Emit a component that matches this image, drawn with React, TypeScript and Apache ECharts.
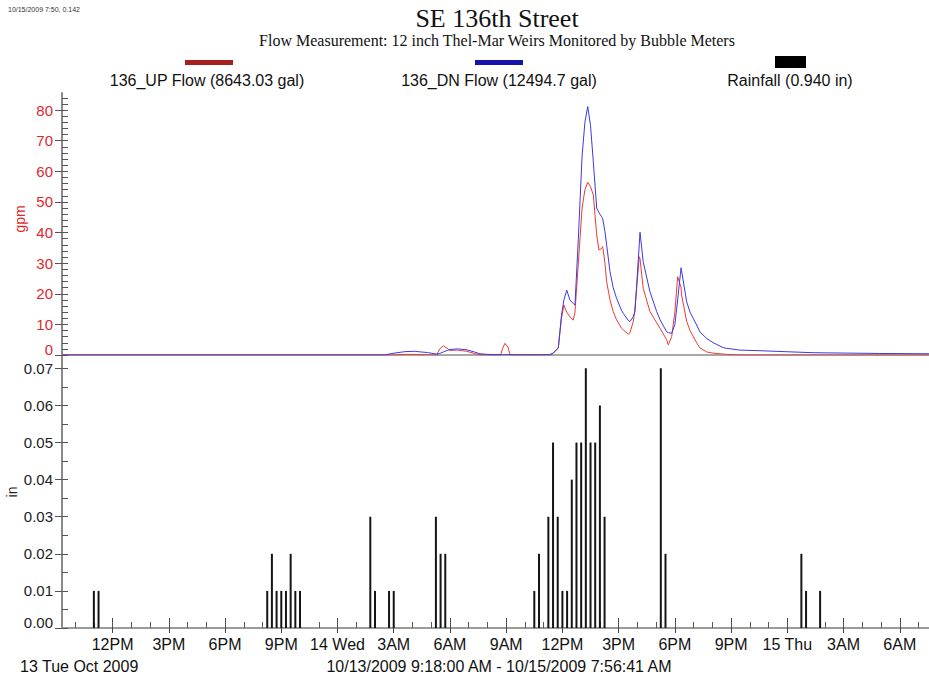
import React, { useEffect, useRef } from "react";
import * as echarts from "echarts";

// time in hours since 10/13/2009 00:00
const flowHours = [9.3, 26.5, 26.9, 27.6, 28.1, 28.8, 29.3, 29.45, 29.65, 29.85, 30.0, 30.4, 30.9, 31.3, 31.6, 32.0, 32.7, 32.8, 32.93, 33.1, 33.2, 33.5, 35.3, 35.5, 35.78, 35.95, 36.08, 36.23, 36.4, 36.58, 36.67, 36.85, 37.05, 37.2, 37.35, 37.5, 37.65, 37.83, 37.95, 38.09, 38.15, 38.27, 38.36, 38.54, 38.71, 38.89, 39.16, 39.25, 39.51, 39.6, 39.78, 39.87, 40.1, 40.14, 40.31, 40.67, 41.03, 41.21, 41.56, 41.65, 41.83, 42.0, 42.15, 42.33, 42.36, 42.63, 42.81, 43.16, 43.34, 43.7, 44.05, 44.58, 44.76, 45.47, 46.54, 49.37, 52.94, 55.56];
const upFlow = [0, 0, 0, 0.2, 0.2, 0.1, 0, 2.0, 3.0, 2.2, 1.5, 1.6, 1.2, 0.5, 0.1, 0, 0, 2.0, 3.8, 2.5, 0.2, 0, 0, 0.5, 2.3, 12, 16.3, 14, 12.5, 11.4, 14, 30, 48, 54, 56.4, 55, 52.3, 39.2, 34.3, 34.8, 35.4, 30, 24, 18, 14.2, 11.5, 8.7, 8.2, 6.8, 7.2, 10.9, 15, 32.1, 31.5, 21.8, 14.2, 10.5, 8.7, 5, 3.3, 6, 14, 25.6, 22, 19.6, 11, 8, 4, 2.3, 1.0, 0.6, 0.3, 0.2, 0, 0, 0, 0, 0];
const dnFlow = [0, 0, 0.5, 1.1, 1.2, 0.8, 0.3, 0.5, 1.0, 1.5, 1.8, 2.0, 1.7, 1.0, 0.4, 0.2, 0.1, 0.1, 0.1, 0.1, 0.1, 0.05, 0.1, 0.6, 2.3, 13, 18, 21.2, 18, 16.8, 16.3, 38, 65, 76, 81.2, 75, 63, 48, 46.5, 45.2, 44.5, 40.3, 36, 27.2, 22, 18.5, 14.5, 13.6, 11.3, 10.9, 12.5, 14.2, 36, 40.1, 30.5, 20.7, 14.2, 11.5, 7.6, 7.3, 7.1, 10, 18, 28.5, 27.5, 17.4, 14, 9.8, 7.5, 5.4, 4.0, 2.4, 2.2, 1.6, 1.4, 0.75, 0.5, 0.4];

const rainHours = [11.0, 11.25, 20.25, 20.5, 20.75, 21.0, 21.25, 21.5, 21.75, 22.0, 25.75, 26.0, 26.75, 27.0, 29.25, 29.5, 29.75, 34.5, 34.75, 35.25, 35.5, 35.75, 36.0, 36.25, 36.5, 36.75, 37.0, 37.25, 37.5, 37.75, 38.0, 38.25, 41.25, 41.5, 48.75, 49.0, 49.75];
const rainIn = [0.01, 0.01, 0.01, 0.02, 0.01, 0.01, 0.01, 0.02, 0.01, 0.01, 0.03, 0.01, 0.01, 0.01, 0.03, 0.02, 0.02, 0.01, 0.02, 0.03, 0.05, 0.03, 0.01, 0.01, 0.04, 0.05, 0.05, 0.07, 0.05, 0.05, 0.06, 0.03, 0.07, 0.02, 0.02, 0.01, 0.01];

const xTickHours = [12, 15, 18, 21, 24, 27, 30, 33, 36, 39, 42, 45, 48, 51, 54];
const xTickLabels = ["12PM", "3PM", "6PM", "9PM", "14 Wed", "3AM", "6AM", "9AM", "12PM", "3PM", "6PM", "9PM", "15 Thu", "3AM", "6AM"];
const xMinorHours = [10, 11, 12, 13, 14, 15, 16, 17, 18, 19, 20, 21, 22, 23, 24, 25, 26, 27, 28, 29, 30, 31, 32, 33, 34, 35, 36, 37, 38, 39, 40, 41, 42, 43, 44, 45, 46, 47, 48, 49, 50, 51, 52, 53, 54, 55];
const flowTicks = [0, 10, 20, 30, 40, 50, 60, 70, 80];
const flowMinorTicks = [0, 2, 4, 6, 8, 10, 12, 14, 16, 18, 20, 22, 24, 26, 28, 30, 32, 34, 36, 38, 40, 42, 44, 46, 48, 50, 52, 54, 56, 58, 60, 62, 64, 66, 68, 70, 72, 74, 76, 78, 80, 82, 84];
const rainTicks = [0, 0.01, 0.02, 0.03, 0.04, 0.05, 0.06, 0.07];
const rainMinorTicks = [0, 0.005, 0.01, 0.015, 0.02, 0.025, 0.03, 0.035, 0.04, 0.045, 0.05, 0.055, 0.06, 0.065, 0.07];

const X_MIN = 9.3;
const X_MAX = 55.56;
const SANS = "'Liberation Sans', Arial, sans-serif";
const SERIF = "'Liberation Serif', 'Times New Roman', serif";
const RED_TXT = "#e0282d";

export default function App() {
  const ref = useRef<HTMLDivElement>(null);
  useEffect(() => {
    if (!ref.current) return;
    const chart = echarts.init(ref.current, undefined, { renderer: "svg" });
    const hideAxis = {
      axisLine: { show: false },
      axisLabel: { show: false },
      splitLine: { show: false },
    };
    const xBase = { type: "value", min: X_MIN, max: X_MAX };
    const option: any = {
      animation: false,
      backgroundColor: "#ffffff",
      grid: [
        { left: 62, top: 93, width: 867, height: 262 },
        { left: 62, top: 355, width: 867, height: 273 },
      ],
      xAxis: [
        { ...xBase, gridIndex: 0, position: "bottom", ...hideAxis, axisLine: { show: true, lineStyle: { color: "#333", width: 1 } }, axisTick: { show: false } },
        { ...xBase, gridIndex: 0, position: "top", ...hideAxis, axisLine: { show: true, lineStyle: { color: "#a8a8a8", width: 2 } }, axisTick: { show: false } },
        {
          ...xBase, gridIndex: 1, position: "bottom", splitLine: { show: false },
          axisLine: { show: true, lineStyle: { color: "#9a9a9a", width: 2 } },
          axisTick: { show: true, inside: true, length: 10, customValues: xTickHours, lineStyle: { color: "#444" } },
          axisLabel: {
            show: true, customValues: xTickHours, margin: 8, fontSize: 16, fontFamily: SANS, color: "#111",
            formatter: (v: number) => { const i = xTickHours.findIndex((h) => Math.abs(h - v) < 1e-6); return i >= 0 ? xTickLabels[i] : ""; },
          },
        },
        { ...xBase, gridIndex: 1, position: "bottom", ...hideAxis, axisTick: { show: true, inside: false, length: 5, customValues: xTickHours, lineStyle: { color: "#444" } } },
        { ...xBase, gridIndex: 1, position: "bottom", ...hideAxis, axisTick: { show: true, inside: true, length: 6, customValues: xMinorHours, lineStyle: { color: "#555" } } },
      ],
      yAxis: [
        {
          type: "value", gridIndex: 0, position: "left", min: 0, max: 85.6, splitLine: { show: false },
          axisLine: { show: true, lineStyle: { color: "#8a8a8a", width: 2 } },
          axisTick: { show: true, inside: false, length: 7, customValues: flowTicks, lineStyle: { color: "#555" } },
          axisLabel: {
            show: true, customValues: flowTicks, margin: 9, fontSize: 15, fontFamily: SANS, color: RED_TXT,
            formatter: (v: number) => (v === 0 ? "{z|0}" : String(v)),
            rich: { z: { fontSize: 15, fontFamily: SANS, color: RED_TXT, padding: [0, 0, 12, 0] } },
          },
        },
        { type: "value", gridIndex: 0, position: "left", min: 0, max: 85.6, ...hideAxis, axisTick: { show: true, inside: true, length: 6, customValues: flowMinorTicks, lineStyle: { color: "#555" } } },
        {
          type: "value", gridIndex: 1, position: "left", min: 0, max: 0.0736, splitLine: { show: false },
          axisLine: { show: true, lineStyle: { color: "#8a8a8a", width: 2 } },
          axisTick: { show: true, inside: false, length: 7, customValues: rainTicks, lineStyle: { color: "#555" } },
          axisLabel: {
            show: true, customValues: rainTicks, margin: 9, fontSize: 15, fontFamily: SANS, color: "#222",
            formatter: (v: number) => (Math.abs(v) < 1e-9 ? "{z|0.00}" : v.toFixed(2)),
            rich: { z: { fontSize: 15, fontFamily: SANS, color: "#222", padding: [0, 0, 12, 0] } },
          },
        },
        { type: "value", gridIndex: 1, position: "left", min: 0, max: 0.0736, ...hideAxis, axisTick: { show: true, inside: true, length: 6, customValues: rainMinorTicks, lineStyle: { color: "#555" } } },
      ],
      series: [
        {
          name: "136_UP Flow", type: "line", xAxisIndex: 0, yAxisIndex: 0, showSymbol: false, symbol: "none",
          data: flowHours.map((h, i) => [h, upFlow[i]]),
          lineStyle: { color: "#ec3b33", width: 1 }, z: 3,
        },
        {
          name: "136_DN Flow", type: "line", xAxisIndex: 0, yAxisIndex: 0, showSymbol: false, symbol: "none",
          data: flowHours.map((h, i) => [h, dnFlow[i]]),
          lineStyle: { color: "#3a3ae6", width: 1 }, z: 4,
        },
        {
          name: "Rainfall", type: "bar", xAxisIndex: 2, yAxisIndex: 2, barWidth: 2,
          data: rainHours.map((h, i) => [h, rainIn[i]]),
          itemStyle: { color: "#151515" },
        },
      ],
      graphic: [
        { type: "text", left: 8, top: 6, style: { text: "10/15/2009 7:50, 0.142", fontSize: 7, fontFamily: SANS, fill: "#333" } },
        { type: "text", x: 497, y: 18, style: { text: "SE 136th Street", fontSize: 26, fontFamily: SERIF, fill: "#111", align: "center", verticalAlign: "middle" } },
        { type: "text", x: 497, y: 40, style: { text: "Flow Measurement: 12 inch Thel-Mar Weirs Monitored by Bubble Meters", fontSize: 16, fontFamily: SERIF, fill: "#111", align: "center", verticalAlign: "middle" } },
        { type: "rect", shape: { x: 185, y: 60, width: 48, height: 5 }, style: { fill: "#a8201e" } },
        { type: "rect", shape: { x: 475, y: 60, width: 48, height: 5 }, style: { fill: "#1414a8" } },
        { type: "rect", shape: { x: 775, y: 56, width: 31, height: 12 }, style: { fill: "#000" } },
        { type: "text", x: 207, y: 80, style: { text: "136_UP Flow (8643.03 gal)", fontSize: 16, fontFamily: SANS, fill: "#111", align: "center", verticalAlign: "middle" } },
        { type: "text", x: 499, y: 80, style: { text: "136_DN Flow (12494.7 gal)", fontSize: 16, fontFamily: SANS, fill: "#111", align: "center", verticalAlign: "middle" } },
        { type: "text", x: 790, y: 80, style: { text: "Rainfall (0.940 in)", fontSize: 16, fontFamily: SANS, fill: "#111", align: "center", verticalAlign: "middle" } },
        { type: "text", x: 20, y: 219, rotation: Math.PI / 2, style: { text: "gpm", fontSize: 14, fontFamily: SANS, fill: RED_TXT, align: "center", verticalAlign: "middle" } },
        { type: "text", x: 12, y: 492, rotation: Math.PI / 2, style: { text: "in", fontSize: 14, fontFamily: SANS, fill: "#222", align: "center", verticalAlign: "middle" } },
        { type: "text", x: 20, y: 666, style: { text: "13 Tue Oct 2009", fontSize: 16, fontFamily: SANS, fill: "#111", align: "left", verticalAlign: "middle" } },
        { type: "text", x: 499, y: 666, style: { text: "10/13/2009 9:18:00 AM - 10/15/2009 7:56:41 AM", fontSize: 16, fontFamily: SANS, fill: "#111", align: "center", verticalAlign: "middle" } },
      ],
    };
    chart.setOption(option);
    return () => chart.dispose();
  }, []);
  return <div ref={ref} style={{ position: "fixed", left: 0, top: 0, width: 929, height: 677, background: "#fff" }} />;
}
